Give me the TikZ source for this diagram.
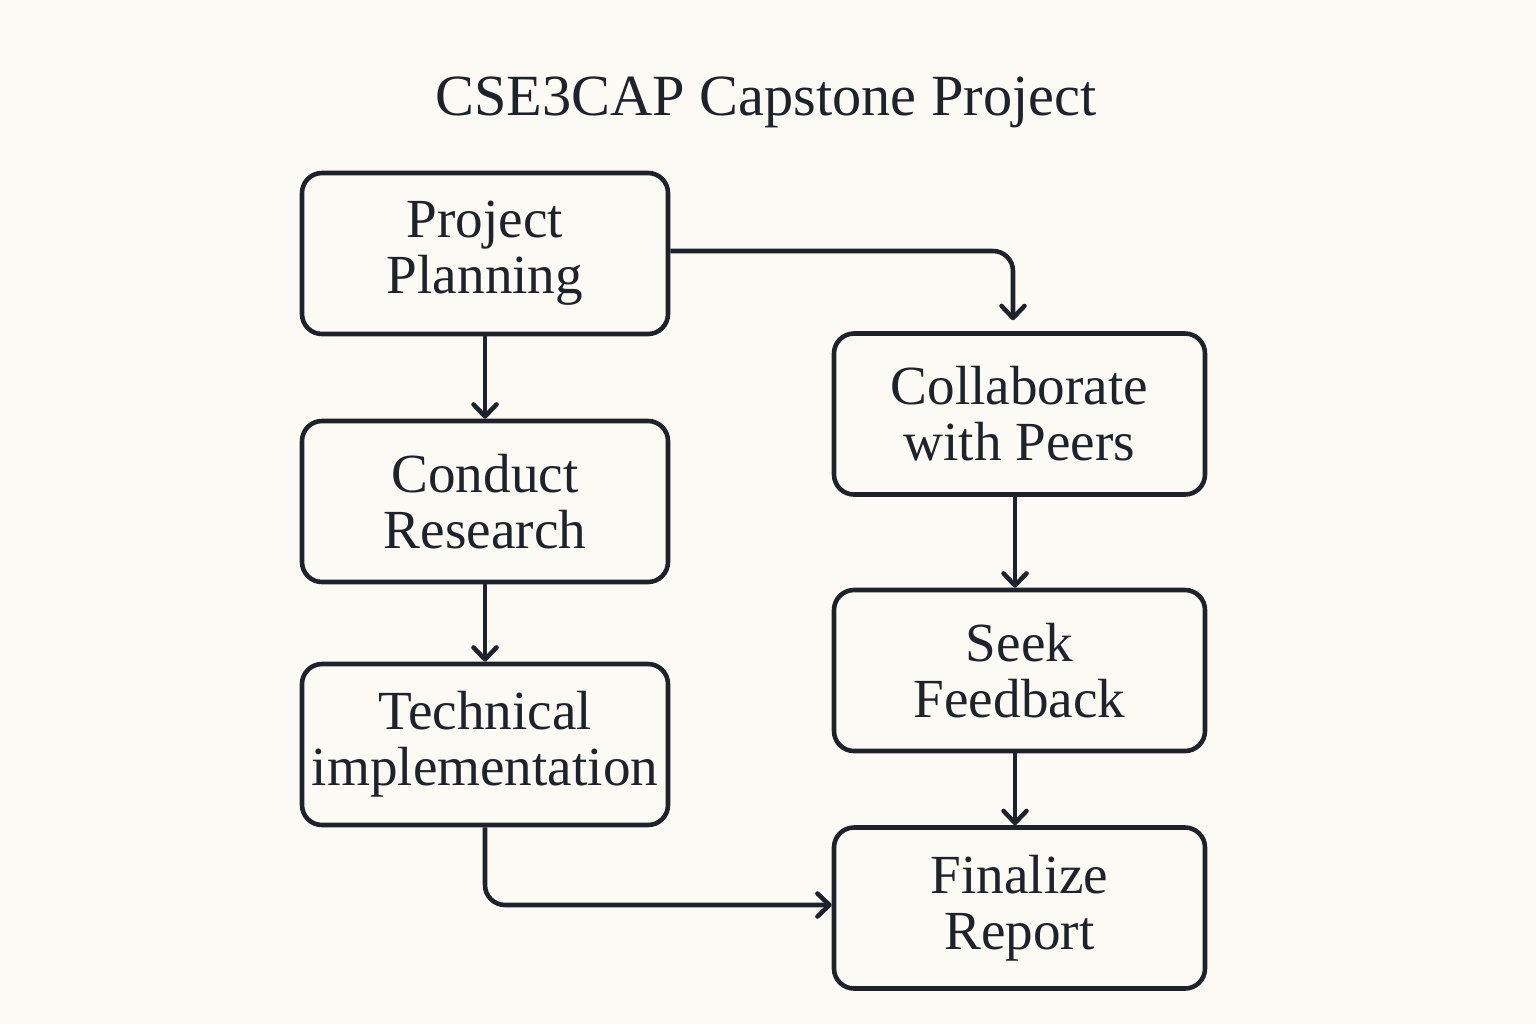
\documentclass[tikz,border=0pt]{standalone}
\usepackage{fontspec}
\setmainfont{Liberation Serif}
\usetikzlibrary{arrows.meta}
\definecolor{ink}{HTML}{1E232B}
\definecolor{paper}{HTML}{FCFAF4}
\begin{document}
\begin{tikzpicture}[
    stage/.style={draw=ink, line width=1.3pt, rounded corners=0.2cm,
      minimum width=3.66cm, minimum height=1.61cm, inner xsep=1pt,
      align=center, text=ink, font=\fontsize{15.7}{15.9}\selectfont},
    wide/.style={minimum width=3.71cm},
    flow/.style={draw=ink, line width=1.3pt, rounded corners=0.2cm,
      -{Straight Barb[length=0.12cm, width=0.23cm, line cap=round, line join=round]}}
  ]
  \fill[paper] (0,0) rectangle (15.36,-10.24);
  \node[text=ink, anchor=base, font=\fontsize{16.6}{20}\selectfont] (title) at (7.66,-1.15) {CSE3CAP Capstone Project};
  \draw
    (4.85,-2.535) node[stage] (pp){Project\\Planning}
    (4.85,-5.015) node[stage] (cr){Conduct\\Research}
    (4.85,-7.445) node[stage] (ti){Technical\\implementation}
    (10.195,-4.14) node[stage,wide] (cp){Collaborate\\with Peers}
    (10.195,-6.705) node[stage,wide] (sf){Seek\\Feedback}
    (10.195,-9.08) node[stage,wide] (fr){Finalize\\Report};
  \begin{scope}[flow]
    \draw (pp) -- (cr);
    \draw (cr) -- (ti);
    \draw ([yshift=0.025cm]pp.east) -| ([xshift=-0.065cm, yshift=0.11cm]cp.north);
    \draw ([xshift=-0.045cm]cp.south) -- ([xshift=-0.045cm]sf.north);
    \draw ([xshift=-0.045cm]sf.south) -- ([xshift=-0.045cm]fr.north);
    \draw (ti.south) |- ([yshift=0.03cm]fr.west);
  \end{scope}
\end{tikzpicture}
\end{document}
